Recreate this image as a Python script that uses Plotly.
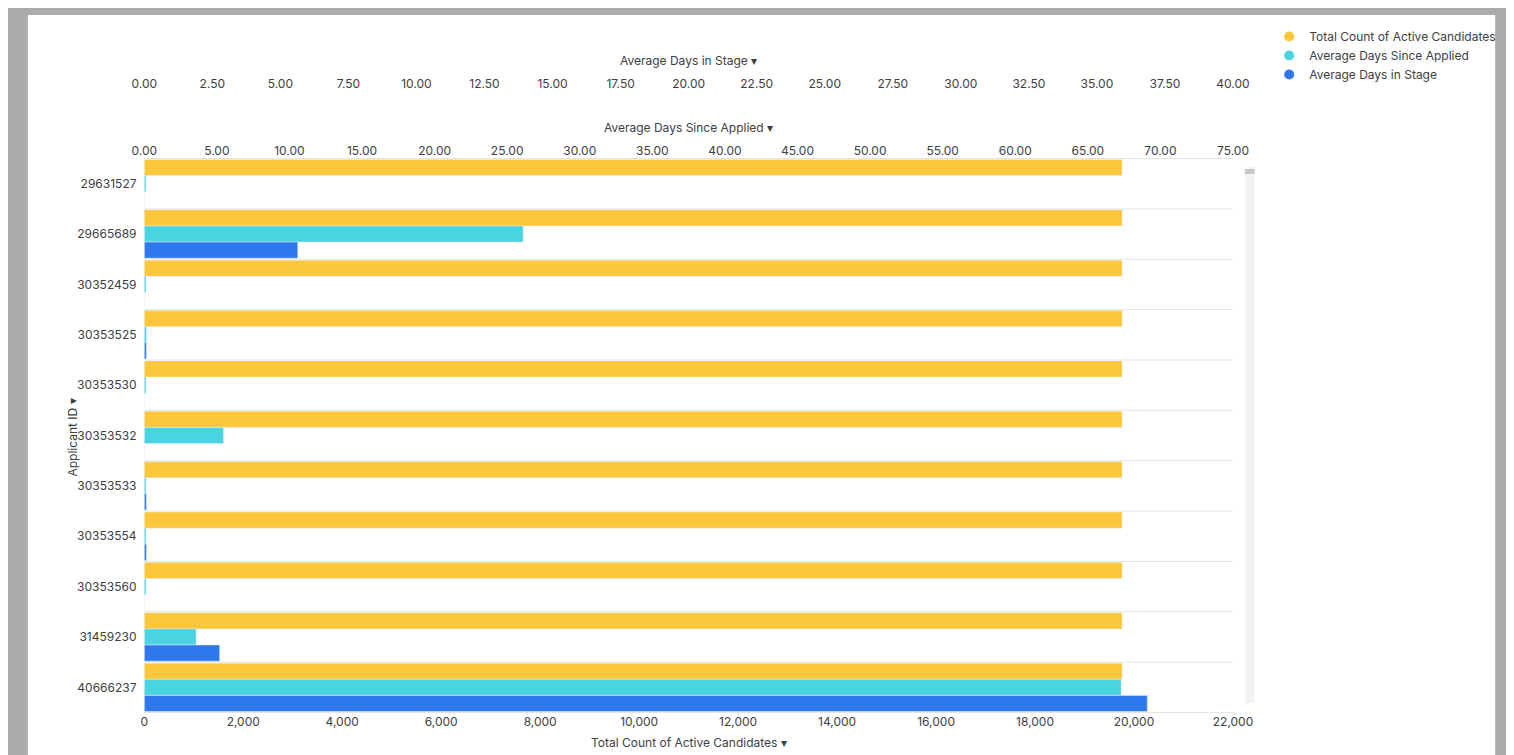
import plotly.graph_objects as go

applicant_ids = ["29631527", "29665689", "30352459", "30353525", "30353530", "30353532",
                 "30353533", "30353554", "30353560", "31459230", "40666237"]
total_active = [19760] * 11
days_since_applied = [0.12, 26.1, 0.12, 0.15, 0.12, 5.46, 0.12, 0.12, 0.12, 3.57, 67.3]
days_in_stage = [0, 5.64, 0, 0.08, 0, 0, 0.08, 0.08, 0, 2.77, 36.85]

YELLOW, CYAN, BLUE = "#fcc73a", "#4ad4e2", "#2f78ec"
W, H = 1514, 755
font = dict(family="Inter, Open Sans, sans-serif", size=12, color="#3c4043")

fig = go.Figure()
fig.add_trace(go.Bar(y=applicant_ids, x=total_active, orientation="h", marker_color=YELLOW,
                     width=0.32, offset=-0.48, xaxis="x", yaxis="y", showlegend=False))
fig.add_trace(go.Bar(y=applicant_ids, x=days_since_applied, orientation="h", marker_color=CYAN,
                     width=0.32, offset=-0.16, xaxis="x2", yaxis="y", showlegend=False))
fig.add_trace(go.Bar(y=applicant_ids, x=days_in_stage, orientation="h", marker_color=BLUE,
                     width=0.32, offset=0.16, xaxis="x3", yaxis="y", showlegend=False))

# legend entries with circle markers
for name, c in [("Total Count of Active Candidates", YELLOW),
                ("Average Days Since Applied", CYAN),
                ("Average Days in Stage", BLUE)]:
    fig.add_trace(go.Scatter(x=[None], y=[None], mode="markers", name=name,
                             marker=dict(color=c, size=10, symbol="circle")))

x0, x1 = 126 / W, 1239 / W
ybot, ytop = 50 / H, 605 / H

shapes = [dict(type="rect", xref="paper", yref="paper", x0=7 / W, x1=1507 / W, y0=7 / H, y1=748 / H,
               fillcolor="white", line_width=0, layer="below")]
for i in range(len(applicant_ids) + 1):
    shapes.append(dict(type="line", xref="paper", yref="y", x0=x0, x1=x1, y0=i - 0.5, y1=i - 0.5,
                       line=dict(color="#e4e4e4", width=1), layer="below"))
shapes.append(dict(type="rect", xref="paper", yref="paper", x0=1251 / W, x1=1261 / W,
                   y0=60 / H, y1=596 / H, fillcolor="#f3f3f3", line_width=0))
shapes.append(dict(type="rect", xref="paper", yref="paper", x0=1251 / W, x1=1261 / W,
                   y0=589 / H, y1=594 / H, fillcolor="#c8c8c8", line_width=0))

fig.update_layout(
    width=W, height=H, margin=dict(l=0, r=0, t=0, b=0),
    paper_bgcolor="#ababab", plot_bgcolor="white", font=font,
    shapes=shapes,
    xaxis=dict(domain=[x0, x1], range=[0, 22000], dtick=2000, tickformat=",d",
               showgrid=False, zeroline=False, ticks="", anchor="y"),
    xaxis2=dict(domain=[x0, x1], range=[0, 75], dtick=5, tickformat=".2f", overlaying="x",
                side="top", anchor="y", showgrid=False, zeroline=False),
    xaxis3=dict(domain=[x0, x1], range=[0, 40], dtick=2.5, tickformat=".2f", overlaying="x",
                side="top", anchor="free", position=(H - 82) / H, showgrid=False, zeroline=False),
    yaxis=dict(domain=[ybot, ytop], autorange="reversed", type="category", showgrid=False,
               ticks="", ticklen=0, ticksuffix="  "),
    legend=dict(x=1276 / W, y=1 - 14 / H, xanchor="left", yanchor="top", bgcolor="rgba(0,0,0,0)",
                font=dict(size=12, color="#3c4043"), itemwidth=30, tracegroupgap=2),
    annotations=[
        dict(text="Average Days in Stage ▾", x=(x0 + x1) / 2, y=1 - 43 / H, xref="paper", yref="paper",
             showarrow=False, font=dict(size=12)),
        dict(text="Average Days Since Applied ▾", x=(x0 + x1) / 2, y=1 - 110 / H, xref="paper",
             yref="paper", showarrow=False, font=dict(size=12)),
        dict(text="Total Count of Active Candidates ▾", x=(x0 + x1) / 2, y=1 - 744 / H, xref="paper",
             yref="paper", showarrow=False, font=dict(size=12)),
        dict(text="Applicant ID ▾", x=42 / W, y=1 - 430 / H, xref="paper", yref="paper",
             showarrow=False, textangle=-90, font=dict(size=12)),
    ],
)

fig.write_html("out.html")
